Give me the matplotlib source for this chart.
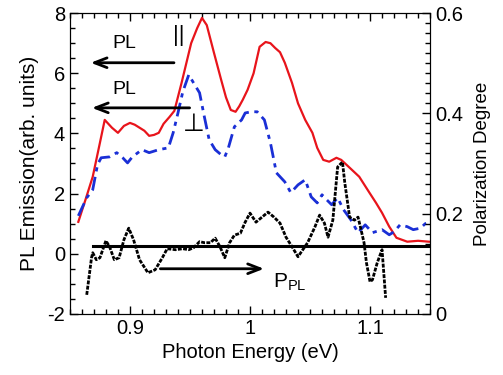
import numpy as np
import matplotlib.pyplot as plt
from matplotlib.ticker import MultipleLocator, FuncFormatter

plt.rcParams['font.family'] = ['Liberation Sans', 'DejaVu Sans']

# PL, parallel polarization (left axis)
e_par = [0.857, 0.863, 0.869, 0.875, 0.879, 0.885, 0.890, 0.895, 0.900, 0.904,
         0.908, 0.912, 0.916, 0.920, 0.924, 0.928, 0.933, 0.937, 0.943, 0.951,
         0.956, 0.960, 0.964, 0.970, 0.976, 0.980, 0.984, 0.988, 0.991, 0.994,
         0.998, 1.003, 1.008, 1.013, 1.017, 1.021, 1.025, 1.029, 1.035, 1.040,
         1.046, 1.052, 1.056, 1.061, 1.066, 1.072, 1.076, 1.083, 1.091, 1.099,
         1.105, 1.110, 1.116, 1.122, 1.131, 1.140, 1.149]
pl_par = [1.06, 1.8, 2.56, 3.69, 4.45, 4.19, 4.02, 4.25, 4.35, 4.29,
          4.19, 4.09, 3.92, 3.95, 4.02, 4.32, 4.55, 4.75, 5.68, 7.0,
          7.5, 7.84, 7.6, 6.68, 5.78, 5.2, 4.78, 4.72, 4.9, 5.12,
          5.45, 6.0, 6.88, 7.04, 7.0, 6.84, 6.7, 6.35, 5.68, 5.0,
          4.45, 4.02, 3.52, 3.12, 3.06, 3.19, 3.12, 2.86, 2.56, 2.06,
          1.69, 1.36, 0.9, 0.53, 0.4, 0.43, 0.4]

# PL, perpendicular polarization (left axis)
e_perp = [0.857, 0.864, 0.869, 0.873, 0.876, 0.883, 0.889, 0.894, 0.898, 0.902,
          0.910, 0.916, 0.924, 0.932, 0.936, 0.940, 0.944, 0.949, 0.953, 0.958,
          0.962, 0.966, 0.971, 0.976, 0.979, 0.982, 0.987, 0.993, 0.996, 1.001,
          1.006, 1.012, 1.017, 1.022, 1.029, 1.034, 1.040, 1.046, 1.051, 1.056,
          1.060, 1.064, 1.068, 1.073, 1.078, 1.084, 1.090, 1.096, 1.102, 1.110,
          1.116, 1.120, 1.125, 1.131, 1.136, 1.142, 1.146, 1.149]
pl_perp = [1.26, 1.86, 2.13, 2.96, 3.19, 3.22, 3.36, 3.19, 3.02, 3.22,
           3.46, 3.36, 3.46, 3.52, 4.02, 4.68, 5.38, 5.95, 5.68, 5.35,
           4.55, 3.79, 3.46, 3.29, 3.22, 3.52, 4.22, 4.45, 4.68, 4.72,
           4.72, 4.45, 3.69, 2.69, 2.39, 2.03, 2.29, 2.46, 1.89, 1.69,
           1.96, 1.79, 1.63, 1.86, 1.46, 1.13, 0.7, 0.96, 0.7, 0.8,
           0.63, 0.73, 0.96, 0.9, 0.8, 0.85, 1.0, 1.03]

# polarization degree (right axis)
e_pol = [0.864, 0.868, 0.869, 0.872, 0.875, 0.880, 0.883, 0.887, 0.891, 0.895,
         0.899, 0.903, 0.908, 0.915, 0.921, 0.927, 0.931, 0.938, 0.944, 0.949,
         0.953, 0.958, 0.962, 0.967, 0.971, 0.975, 0.979, 0.983, 0.987, 0.992,
         0.996, 1.000, 1.005, 1.009, 1.015, 1.020, 1.025, 1.030, 1.035, 1.040,
         1.044, 1.048, 1.054, 1.058, 1.062, 1.065, 1.069, 1.071, 1.073, 1.077,
         1.079, 1.083, 1.087, 1.090, 1.092, 1.095, 1.097, 1.100, 1.102, 1.106,
         1.110, 1.113]
pol = [0.038, 0.112, 0.122, 0.108, 0.112, 0.146, 0.134, 0.108, 0.112, 0.148,
       0.171, 0.148, 0.108, 0.082, 0.088, 0.112, 0.130, 0.128, 0.130, 0.128,
       0.132, 0.144, 0.142, 0.142, 0.151, 0.134, 0.112, 0.142, 0.157, 0.161,
       0.183, 0.201, 0.183, 0.191, 0.203, 0.193, 0.181, 0.153, 0.134, 0.114,
       0.128, 0.142, 0.173, 0.197, 0.181, 0.153, 0.187, 0.240, 0.293, 0.303,
       0.261, 0.193, 0.187, 0.193, 0.173, 0.142, 0.102, 0.064, 0.068, 0.102,
       0.128, 0.032]
pol_mean = 0.1355

fig = plt.figure(figsize=(5.03, 3.75), dpi=100)
ax = fig.add_axes([0.139, 0.163, 0.716, 0.802])
ax2 = ax.twinx()

ax.plot(e_par, pl_par, color='#e8141b', lw=1.6)
ax.plot(e_perp, pl_perp, color='#1a2fd6', lw=2.0, dashes=(5, 2, 1.5, 2))
ax2.plot(e_pol, pol, color='black', lw=2.0, linestyle=(0, (1.4, 0.5)))
ax2.plot([0.869, 1.15], [pol_mean, pol_mean], color='black', lw=2.2)

ax.set_xlim(0.85, 1.15)
ax.set_ylim(-2, 8)
ax2.set_ylim(0, 0.6)

fmt = FuncFormatter(lambda v, p: f'{v:g}')
ax.xaxis.set_major_locator(MultipleLocator(0.1))
ax.xaxis.set_minor_locator(MultipleLocator(0.01))
ax.xaxis.set_major_formatter(fmt)
ax.yaxis.set_major_locator(MultipleLocator(2))
ax.yaxis.set_minor_locator(MultipleLocator(0.5))
ax.yaxis.set_major_formatter(fmt)
ax2.yaxis.set_major_locator(MultipleLocator(0.2))
ax2.yaxis.set_minor_locator(MultipleLocator(0.02))
ax2.yaxis.set_major_formatter(fmt)

ax.tick_params(which='both', direction='in', top=True, right=False, labelsize=14.5, width=1)
ax.tick_params(which='major', length=6)
ax.tick_params(which='minor', length=3.5)
ax2.tick_params(which='both', direction='in', labelsize=14.5, width=1)
ax2.tick_params(which='major', length=6)
ax2.tick_params(which='minor', length=3.5)

ax.set_xlabel('Photon Energy (eV)', fontsize=14.5, labelpad=4)
ax.set_ylabel('PL Emission(arb. units)', fontsize=15, labelpad=6)
ax2.set_ylabel('Polarization Degree', fontsize=13.5, labelpad=8)

arrow = dict(arrowstyle='->, head_length=0.9, head_width=0.35', color='black', lw=2)
ax.annotate('', xy=(0.865, 6.35), xytext=(0.939, 6.35), arrowprops=arrow)
ax.annotate('', xy=(0.866, 4.85), xytext=(0.952, 4.85), arrowprops=arrow)
ax.annotate('', xy=(1.014, -0.5), xytext=(0.923, -0.5), arrowprops=arrow)
ax.text(0.895, 7.0, 'PL', fontsize=14, ha='center', va='center')
ax.text(0.895, 5.45, 'PL', fontsize=14, ha='center', va='center')
ax.text(0.941, 7.25, '||', fontsize=16, ha='center', va='center')
ax.text(0.953, 4.3, '⊥', fontsize=18, ha='center', va='center', family=['DejaVu Sans'])
ax.text(1.019, -0.95, r'P$_{\mathregular{PL}}$', fontsize=15, ha='left', va='center')

fig.savefig('out.png', dpi=100)
